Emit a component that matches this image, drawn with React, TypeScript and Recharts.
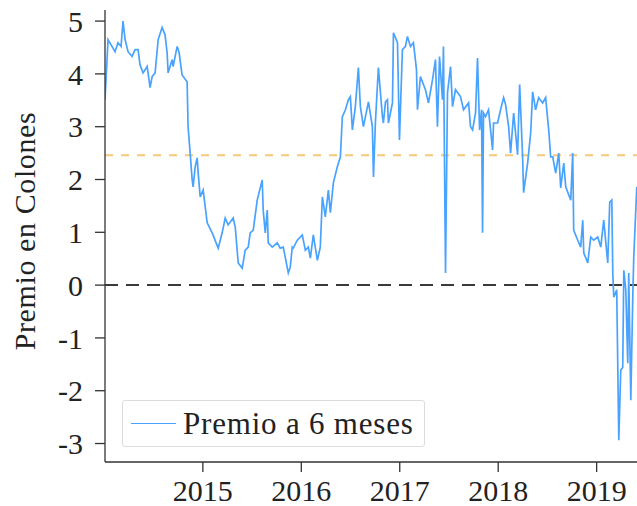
import { LineChart, Line, XAxis, YAxis, ReferenceLine, Label } from 'recharts'

// fecha en años decimales
const fechas = [
  2014.006, 2014.037, 2014.077, 2014.108, 2014.138, 2014.169, 2014.189, 2014.21, 2014.24, 2014.281,
  2014.312, 2014.342, 2014.362, 2014.393, 2014.434, 2014.464, 2014.485, 2014.515, 2014.546, 2014.586,
  2014.616, 2014.637, 2014.647, 2014.688, 2014.698, 2014.739, 2014.759, 2014.789, 2014.84, 2014.85,
  2014.871, 2014.891, 2014.901, 2014.922, 2014.942, 2014.952, 2014.973, 2015.003, 2015.044, 2015.095,
  2015.156, 2015.196, 2015.227, 2015.257, 2015.308, 2015.329, 2015.359, 2015.4, 2015.43, 2015.461,
  2015.481, 2015.512, 2015.552, 2015.603, 2015.613, 2015.634, 2015.654, 2015.664, 2015.705, 2015.756,
  2015.786, 2015.817, 2015.868, 2015.888, 2015.908, 2015.918, 2015.959, 2016.01, 2016.041, 2016.071,
  2016.092, 2016.122, 2016.163, 2016.193, 2016.214, 2016.244, 2016.275, 2016.295, 2016.326, 2016.366,
  2016.397, 2016.417, 2016.448, 2016.478, 2016.498, 2016.519, 2016.549, 2016.58, 2016.6, 2016.631,
  2016.682, 2016.722, 2016.733, 2016.753, 2016.783, 2016.824, 2016.834, 2016.855, 2016.875, 2016.885,
  2016.926, 2016.936, 2016.977, 2016.997, 2017.027, 2017.058, 2017.078, 2017.109, 2017.139, 2017.17,
  2017.18, 2017.21, 2017.261, 2017.292, 2017.333, 2017.363, 2017.383, 2017.404, 2017.434, 2017.444,
  2017.465, 2017.485, 2017.516, 2017.536, 2017.566, 2017.617, 2017.648, 2017.699, 2017.719, 2017.74,
  2017.77, 2017.79, 2017.811, 2017.831, 2017.841, 2017.851, 2017.872, 2017.902, 2017.943, 2017.953,
  2017.994, 2018.024, 2018.055, 2018.075, 2018.106, 2018.126, 2018.157, 2018.197, 2018.218, 2018.248,
  2018.258, 2018.299, 2018.33, 2018.35, 2018.38, 2018.411, 2018.452, 2018.482, 2018.513, 2018.533,
  2018.554, 2018.584, 2018.615, 2018.635, 2018.666, 2018.686, 2018.737, 2018.757, 2018.767, 2018.808,
  2018.838, 2018.859, 2018.869, 2018.91, 2018.94, 2018.971, 2019.011, 2019.042, 2019.072, 2019.113,
  2019.133, 2019.154, 2019.164, 2019.174, 2019.204, 2019.225, 2019.245, 2019.265, 2019.276, 2019.296,
  2019.316, 2019.326, 2019.347, 2019.367, 2019.377, 2019.408,
]

const premio = [
  3.51, 4.65, 4.52, 4.42, 4.59, 4.52, 5.0, 4.65, 4.42, 4.33,
  4.46, 4.46, 4.17, 4.02, 4.14, 3.74, 3.95, 4.02, 4.65, 4.88,
  4.74, 4.4, 4.02, 4.27, 4.14, 4.52, 4.4, 3.98, 3.85, 3.0,
  2.5, 2.0, 1.86, 2.24, 2.41, 2.14, 1.67, 1.8, 1.18, 0.99,
  0.7, 0.99, 1.27, 1.14, 1.27, 1.1, 0.42, 0.32, 0.66, 0.72,
  0.99, 1.04, 1.61, 1.99, 1.42, 0.99, 1.42, 0.8, 0.72, 0.8,
  0.7, 0.72, 0.23, 0.34, 0.72, 0.7, 0.85, 0.95, 0.66, 0.72,
  0.51, 0.95, 0.47, 0.72, 1.67, 1.29, 1.8, 1.37, 1.94, 2.24,
  2.43, 3.19, 3.32, 3.51, 3.57, 2.94, 3.38, 4.12, 3.38, 3.0,
  3.47, 3.0, 2.05, 3.09, 4.12, 3.19, 3.07, 3.47, 3.51, 3.07,
  3.45, 4.78, 4.59, 2.75, 4.46, 4.52, 4.71, 4.52, 4.59, 4.08,
  3.32, 3.95, 3.7, 3.45, 3.89, 4.27, 3.0, 4.33, 3.51, 4.52,
  0.23, 3.64, 4.14, 3.38, 3.7, 3.57, 3.32, 3.45, 3.0, 2.94,
  3.26, 4.3, 2.94, 3.32, 0.99, 3.26, 3.19, 3.32, 2.56, 3.07,
  3.07, 3.32, 3.55, 3.42, 3.0, 2.5, 3.26, 2.47, 3.8, 2.43,
  1.75, 2.31, 2.88, 3.66, 3.32, 3.55, 3.45, 3.55, 2.94, 2.43,
  2.43, 2.12, 2.5, 1.84, 2.31, 1.86, 1.61, 2.5, 1.04, 0.85,
  0.72, 1.23, 0.61, 0.42, 0.91, 0.85, 0.91, 0.72, 1.23, 0.42,
  1.57, 1.61, 0.23, -0.23, -0.09, -2.94, -1.61, -1.56, 0.28, -0.09,
  -1.48, 0.23, -2.18, -0.23, 0.53, 1.86,
]

const ticksX = [2015, 2016, 2017, 2018, 2019]
const ticksY = [-3, -2, -1, 0, 1, 2, 3, 4, 5]
const nivelReferencia = 2.46
const nombreSerie = 'Premio a 6 meses'

const data = fechas.map((t, i) => ({ t, premio: premio[i] }))

const serif = '"Liberation Serif", "DejaVu Serif", serif'
const azul = '#4aa2ff'

function LeyendaPremio() {
  return (
    <div
      style={{
        position: 'absolute',
        left: 122,
        top: 400,
        display: 'flex',
        alignItems: 'center',
        boxSizing: 'border-box',
        border: '1px solid #dcdcdc',
        borderRadius: 3,
        background: '#fff',
        height: 47,
        padding: '0 10px 0 8px',
        fontFamily: serif,
        fontSize: 31,
        color: '#222',
        whiteSpace: 'nowrap',
      }}
    >
      <span style={{ display: 'inline-block', width: 45, height: 0, borderTop: `1.6px solid ${azul}`, marginRight: 7 }} />
      <span style={{ letterSpacing: 0.8 }}>{nombreSerie}</span>
    </div>
  )
}

export default function App() {
  return (
    <div style={{ position: 'absolute', left: 0, top: 0, width: 637, height: 506, background: '#fff' }}>
      <LineChart width={637} height={506} data={data} margin={{ top: 10, right: 0, bottom: 0, left: 0 }}>
        <XAxis
          dataKey="t"
          type="number"
          domain={[2014.006, 2019.41]}
          ticks={ticksX}
          allowDataOverflow
          height={44}
          tickSize={10}
          tickMargin={8}
          stroke="#333"
          strokeWidth={1.3}
          tick={{ fill: '#222', fontFamily: serif, fontSize: 30 }}
        />
        <YAxis
          type="number"
          domain={[-3.35, 5.21]}
          ticks={ticksY}
          allowDataOverflow
          width={105}
          tickSize={10}
          tickMargin={12}
          stroke="#333"
          strokeWidth={1.3}
          tick={{ fill: '#222', fontFamily: serif, fontSize: 30 }}
        >
          <Label
            content={() => (
              <text
                x={24}
                y={231}
                transform="rotate(-90 24 231)"
                textAnchor="middle"
                dominantBaseline="central"
                fill="#222"
                fontFamily={serif}
                fontSize={30}
                letterSpacing={0.6}
              >
                Premio en Colones
              </text>
            )}
          />
        </YAxis>
        <ReferenceLine y={nivelReferencia} stroke="#f8c77a" strokeWidth={2} strokeDasharray="8 8" />
        <ReferenceLine y={0} stroke="#3a3a3a" strokeWidth={2} strokeDasharray="13 8" />
        <Line
          type="linear"
          dataKey="premio"
          name={nombreSerie}
          stroke={azul}
          strokeWidth={1.7}
          dot={false}
          isAnimationActive={false}
        />
      </LineChart>
      <LeyendaPremio />
    </div>
  )
}
